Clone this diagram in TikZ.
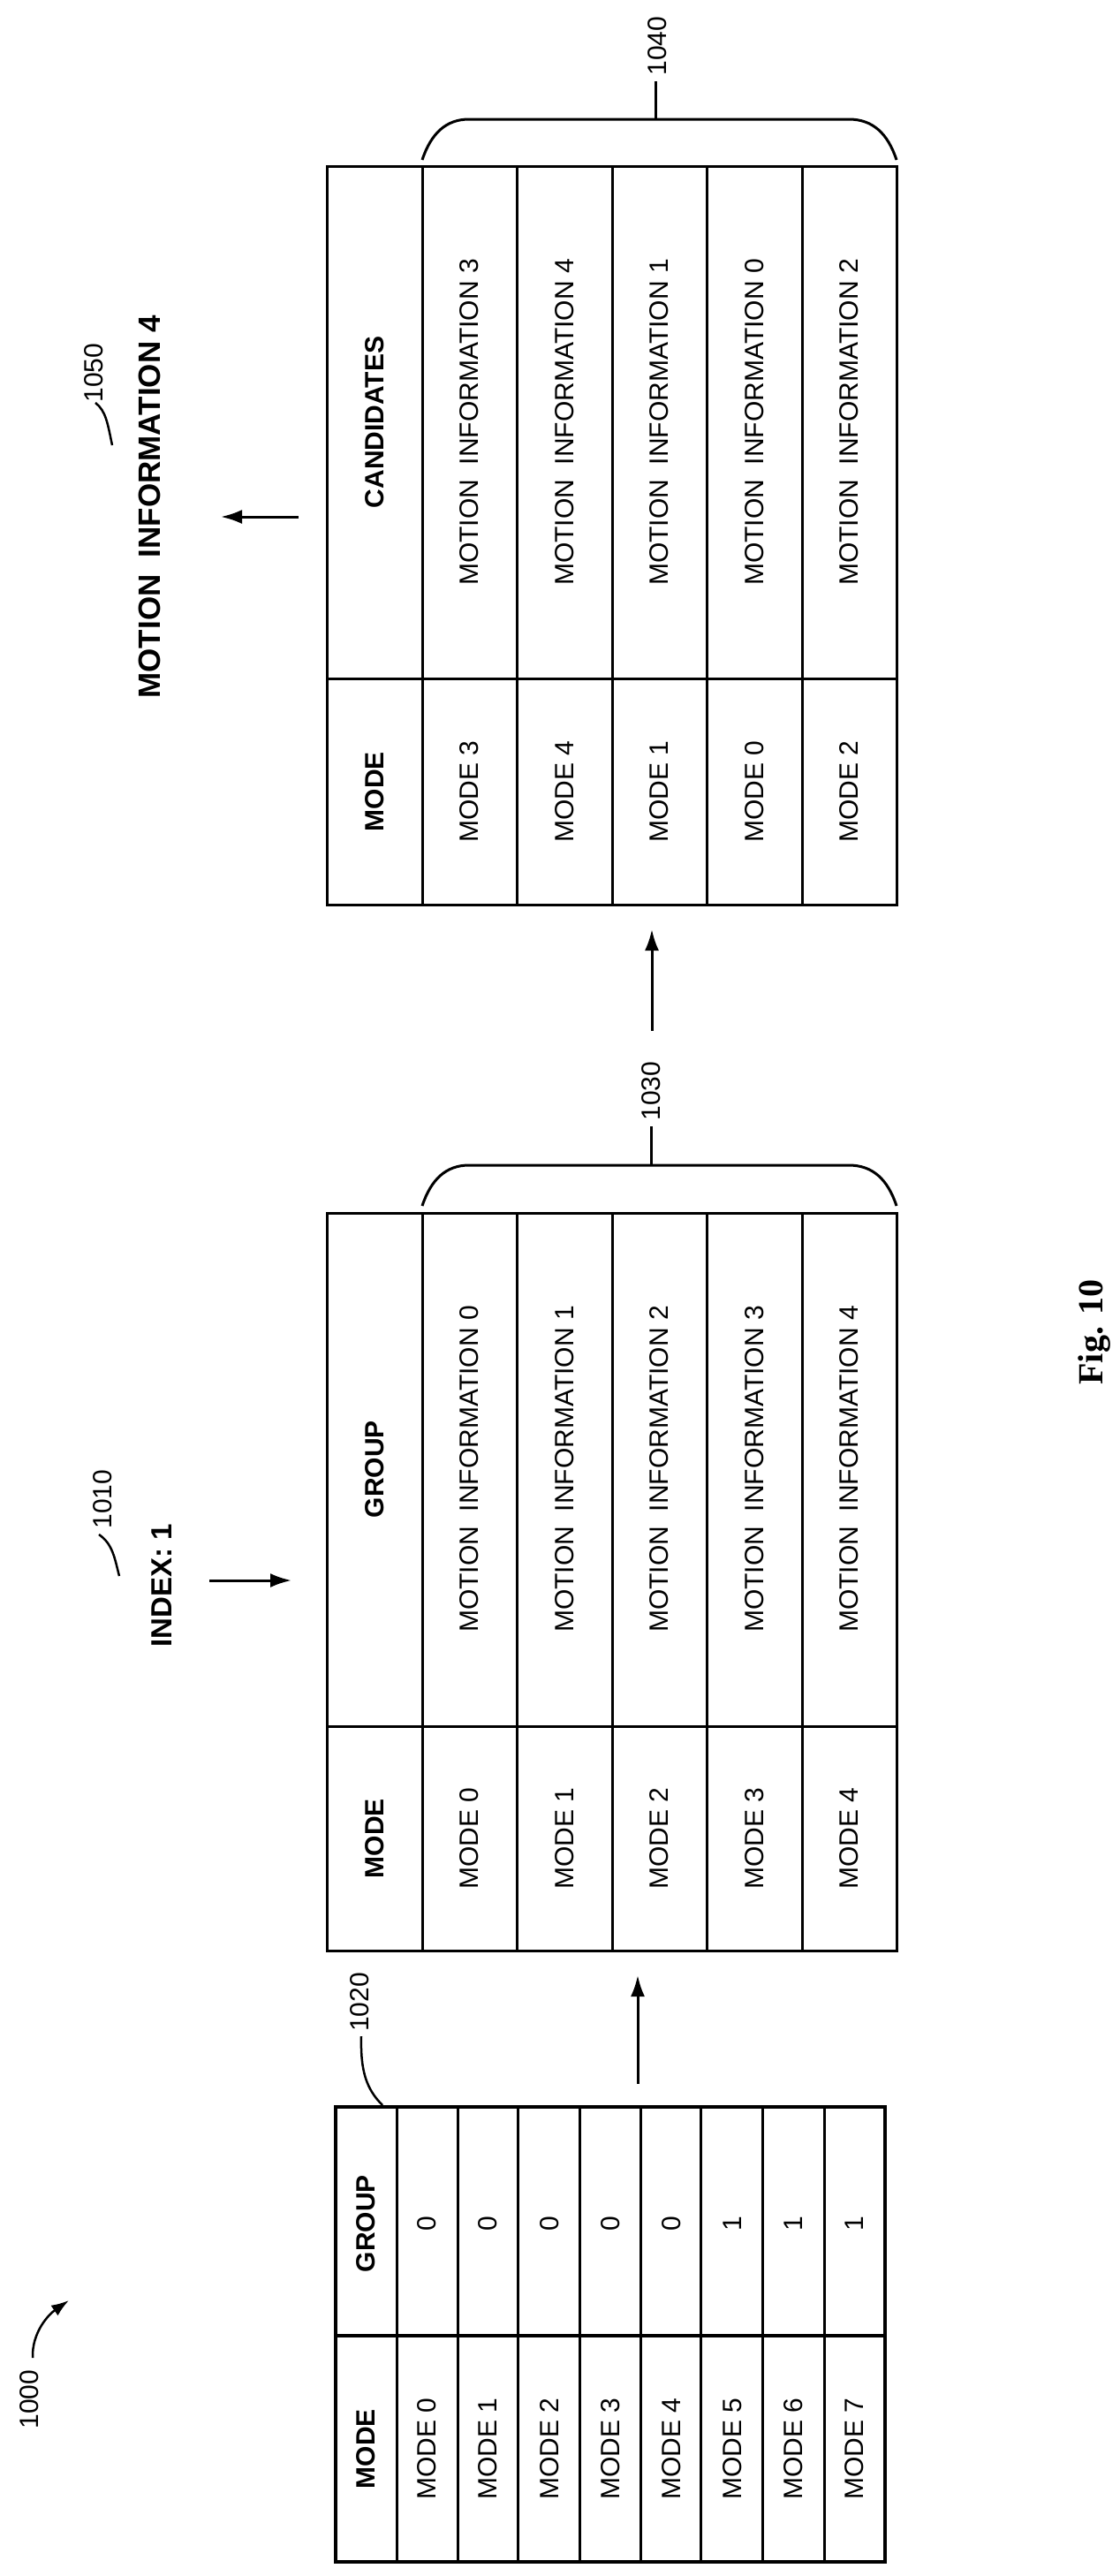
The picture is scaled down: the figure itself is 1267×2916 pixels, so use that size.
\documentclass[tikz,border=0pt]{standalone}
\usepackage{fontspec}
\setmainfont{Liberation Sans}
\newfontfamily\figfont{Liberation Serif}
\usetikzlibrary{arrows.meta}
\begin{document}
\begin{tikzpicture}[x=1pt,y=-1pt,
  cell/.style={rotate=90,font=\fontsize{30}{30}\selectfont,inner sep=0},
  head/.style={rotate=90,font=\fontsize{30}{30}\selectfont\bfseries,inner sep=0},
  lbl/.style={rotate=90,font=\fontsize{30}{30}\selectfont,inner sep=0},
  arr/.style={line width=3pt,-{Latex[length=24pt,width=16pt]}},
  lead/.style={line width=2.5pt},
  grid/.style={line width=3pt},
  frame/.style={line width=4pt}]
\useasboundingbox (0,0) rectangle (1267,2916);
% ---------- table 1020 ----------
\draw[frame] (380,2385) rectangle (1002,2900);
\foreach \x in {449,518,586,656,725,793,863,933} \draw[grid] (\x,2385) -- (\x,2900);
\draw[frame] (380,2644) -- (1002,2644);
\node[head] (t1h1) at (414.5,2772) {MODE};
\node[head] (t1h2) at (414.5,2517) {GROUP};
\foreach \i/\g in {0/0,1/0,2/0,3/0,4/0,5/1,6/1,7/1}{
  \node[cell] (t1m\i) at (483.5+69.1*\i,2772) {MODE \i};
  \node[cell] (t1g\i) at (483.5+69.1*\i,2517) {\g};
}
\coordinate (t1c) at (433,2383);
\node[lbl,anchor=west] (l1020) at (407,2300) {1020};
\draw[lead] (t1c) .. controls (415,2365) and (408,2345) .. (409,2305);
% 1000
\node[lbl] (l1000) at (33,2716) {1000};
\coordinate (a1000s) at (37,2669);
\coordinate (a1000e) at (78,2604);
\draw[line width=2.5pt,-{Latex[length=20pt,width=14pt]}] (a1000s) .. controls (36,2640) and (55,2620) .. (a1000e);
% arrow table1 -> table2
\coordinate (a1s) at (722,2359);
\coordinate (a1e) at (722,2236);
\draw[arr] (a1s) -- (a1e);
% ---------- table 1030 ----------
\draw[grid] (370,1373) rectangle (1015,2208);
\foreach \x in {478,585,693,800,908} \draw[grid] (\x,1373) -- (\x,2208);
\draw[grid] (370,1954) -- (1015,1954);
\node[head] (t2h1) at (424,2081) {MODE};
\node[head] (t2h2) at (424,1663) {GROUP};
\foreach \i in {0,...,4}{
  \node[cell] (t2m\i) at (531.5+107.4*\i,2081) {MODE \i};
  \node[cell] (t2g\i) at (531.5+107.4*\i,1663) {MOTION\ \ INFORMATION \i};
}
\coordinate (b2a) at (478,1365);
\coordinate (b2b) at (1015,1365);
\coordinate (b2m) at (737,1319);
\draw[grid] (b2a) .. controls (488,1335) and (505,1319) .. (531,1319) -- (961,1319) .. controls (988,1319) and (1005,1335) .. (b2b);
\coordinate (s2e) at (737,1275);
\draw[grid] (b2m) -- (s2e);
\node[lbl] (l1030) at (737,1235) {1030};
% index
\node[head,font=\fontsize{33}{33}\selectfont\bfseries] (idx) at (183,1795) {INDEX: 1};
\node[lbl] (l1010) at (116,1697) {1010};
\coordinate (ia) at (237,1789);
\coordinate (ib) at (330,1789);
\draw[arr] (ia) -- (ib);
\draw[lead] (135,1784) .. controls (130,1765) and (128,1748) .. (112,1737);
% arrow table2 -> table3
\coordinate (a2s) at (738,1167);
\coordinate (a2e) at (738,1052);
\draw[arr] (a2s) -- (a2e);
% ---------- table 1040 ----------
\draw[grid] (370,188) rectangle (1015,1024);
\foreach \x in {478,585,693,800,908} \draw[grid] (\x,188) -- (\x,1024);
\draw[grid] (370,768) -- (1015,768);
\node[head] (t3h1) at (424,896) {MODE};
\node[head] (t3h2) at (424,478) {CANDIDATES};
\foreach \k/\m [count=\i from 0] in {3/3,4/4,1/1,0/0,2/2}{
  \node[cell] (t3m\i) at (531.5+107.4*\i,896) {MODE \k};
  \node[cell] (t3g\i) at (531.5+107.4*\i,478) {MOTION\ \ INFORMATION \m};
}
\coordinate (b3a) at (478,181);
\coordinate (b3b) at (1015,181);
\coordinate (b3m) at (742,135);
\draw[grid] (b3a) .. controls (488,151) and (505,135) .. (531,135) -- (961,135) .. controls (988,135) and (1005,151) .. (b3b);
\coordinate (s3e) at (742,92);
\draw[grid] (b3m) -- (s3e);
\node[lbl] (l1040) at (744,52) {1040};
% output
\node[head,font=\fontsize{35}{35}\selectfont\bfseries] (out) at (169,574) {MOTION\ \ INFORMATION 4};
\node[lbl] (l1050) at (106,422) {1050};
\coordinate (oa) at (338,585);
\coordinate (ob) at (250,585);
\draw[arr] (oa) -- (ob);
\draw[lead] (127,504) .. controls (122,480) and (120,465) .. (108,456);
% figure label
\node[rotate=90,font=\figfont\fontsize{40}{40}\selectfont\bfseries,inner sep=0] (fig) at (1239,1508) {Fig. 10};
\end{tikzpicture}
\end{document}
